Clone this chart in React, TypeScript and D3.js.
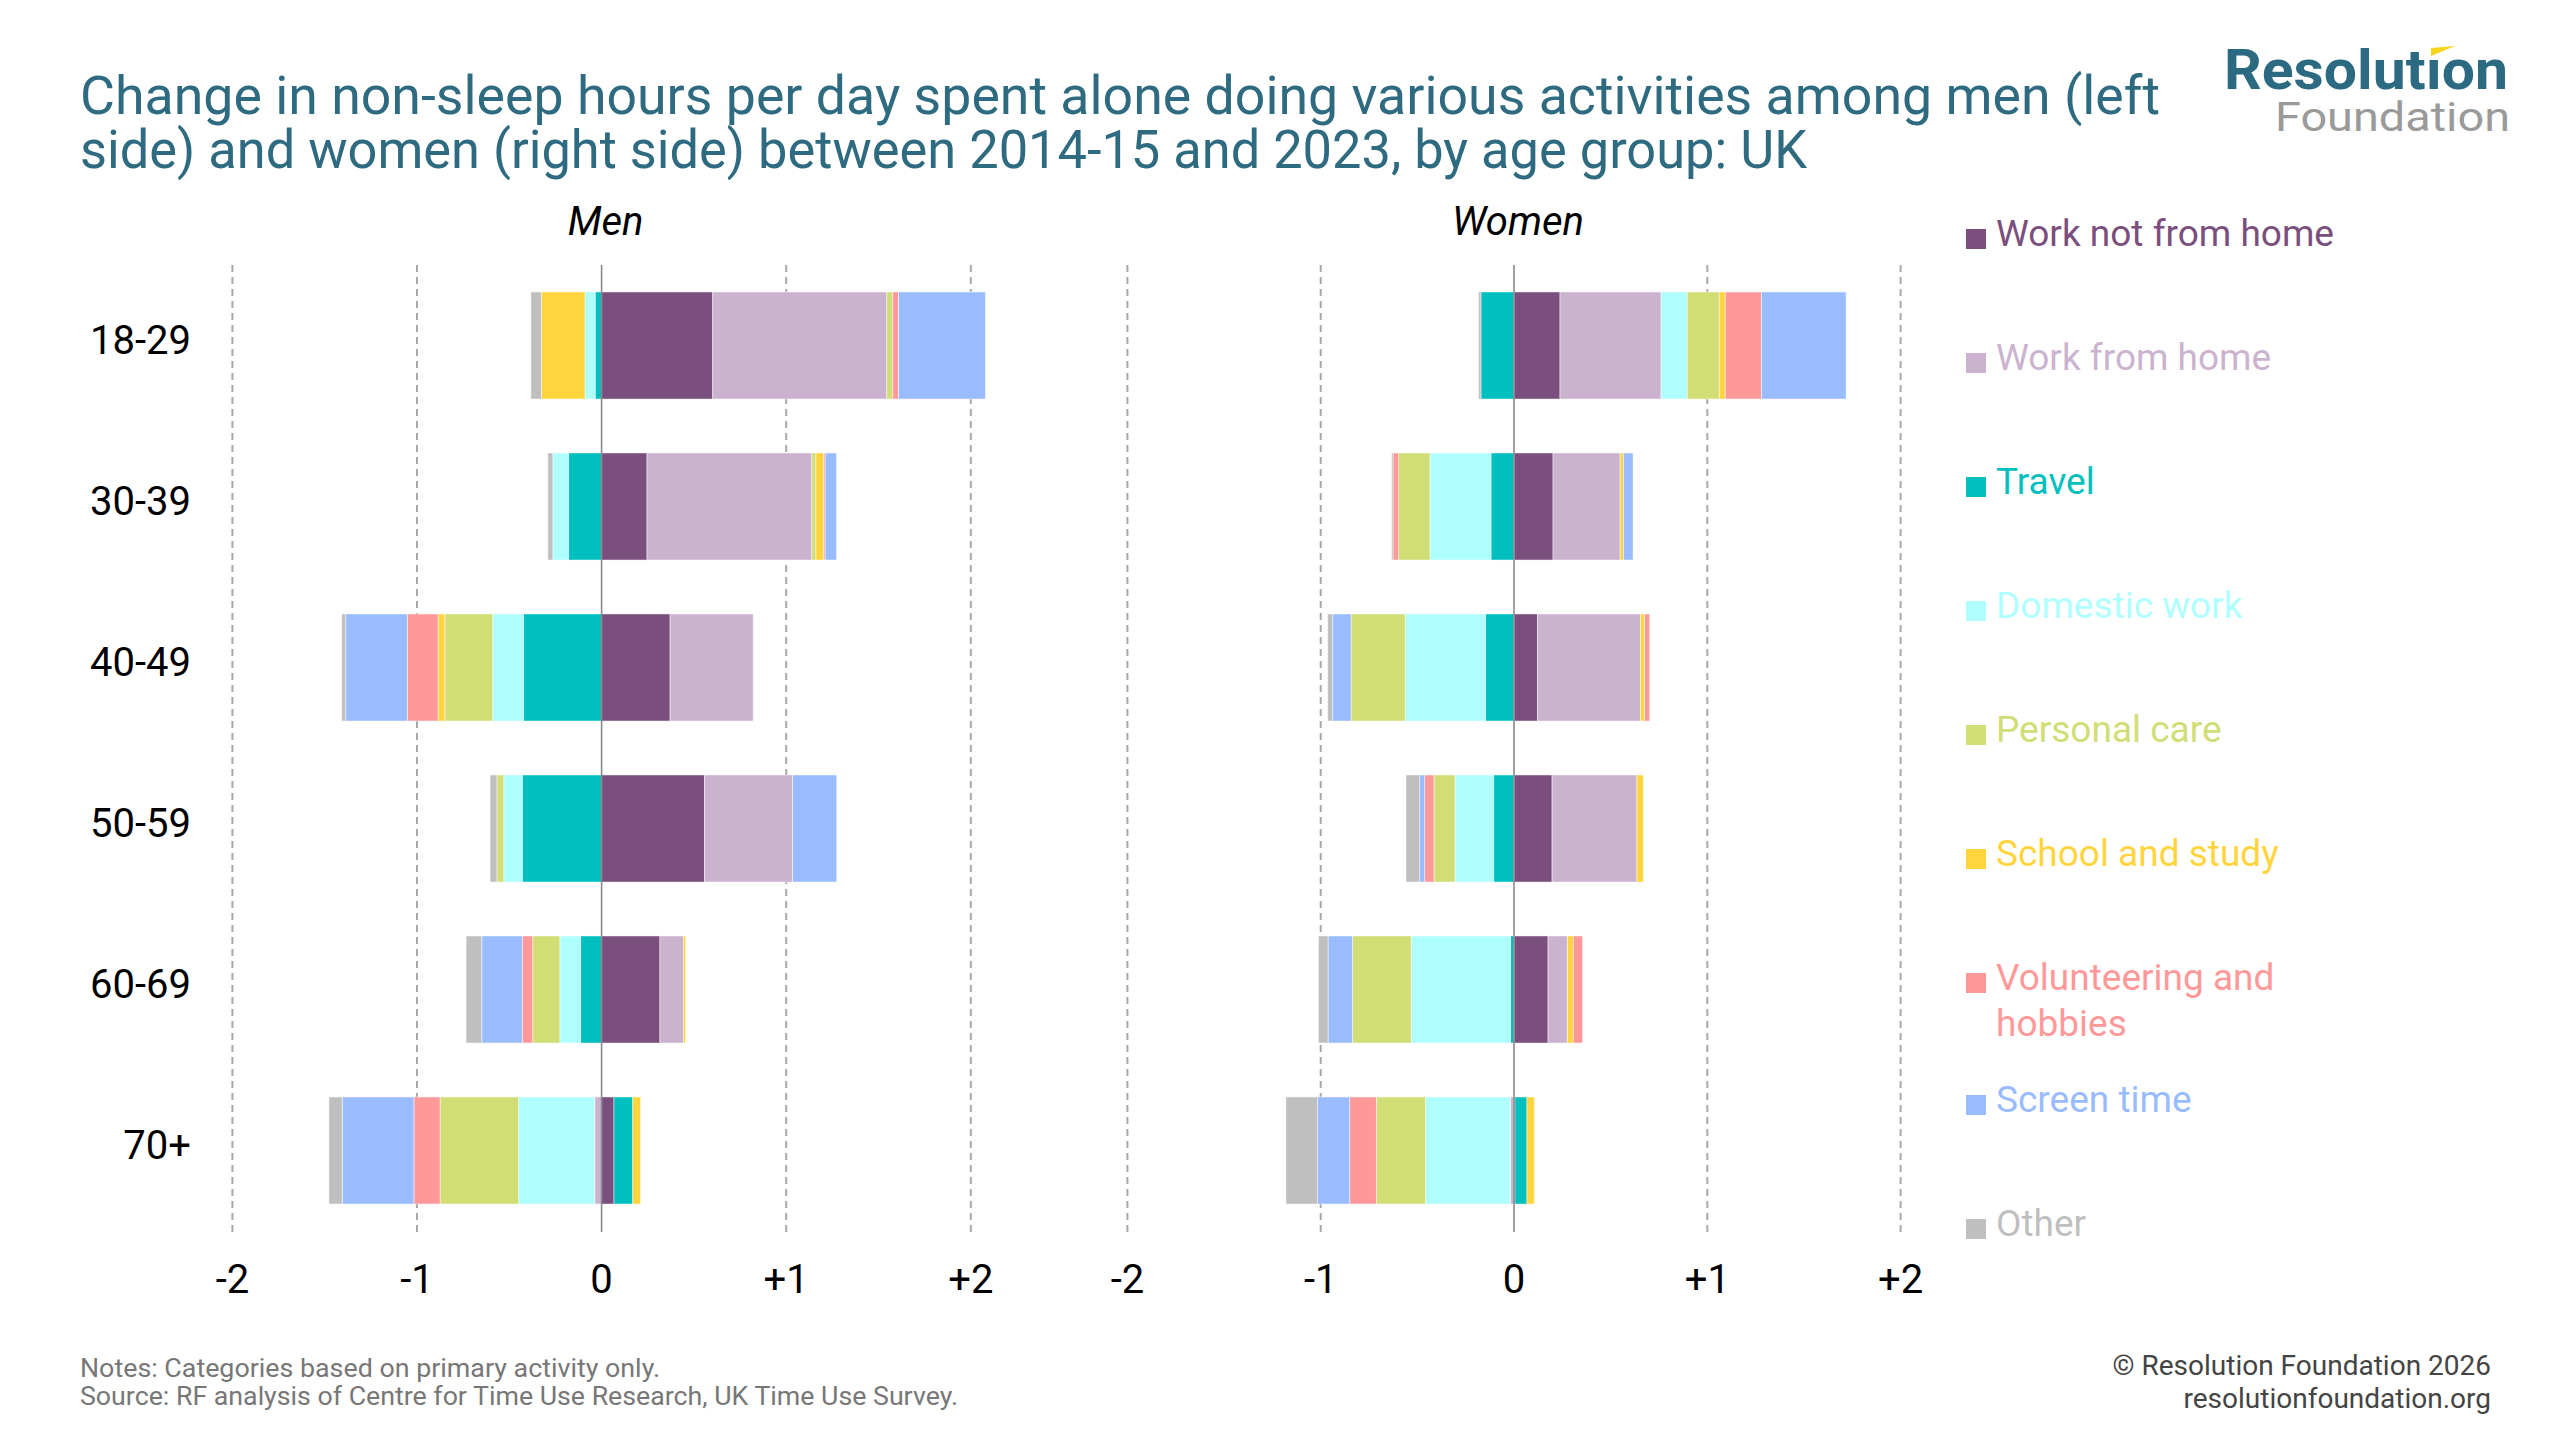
import { useEffect } from "react";
import * as d3 from "d3";

const ageGroups = ["18-29", "30-39", "40-49", "50-59", "60-69", "70+"];

const activities = [
  "Work not from home",
  "Work from home",
  "Travel",
  "Domestic work",
  "Personal care",
  "School and study",
  "Volunteering and hobbies",
  "Screen time",
  "Other",
];
const activityColors = [
  "#7a4f7d", "#cbb3cf", "#00bfbf", "#b0ffff", "#d1dd75",
  "#ffd43d", "#ff9999", "#99bbff", "#bfbfbf",
];

// change in hours per day, one value per age group
const menWorkNotFromHome = [0.602, 0.246, 0.371, 0.557, 0.316, 0.067];
const menWorkFromHome = [0.943, 0.893, 0.45, 0.478, 0.127, -0.037];
const menTravel = [-0.035, -0.179, -0.423, -0.43, -0.114, 0.102];
const menDomestic = [-0.055, -0.085, -0.167, -0.1, -0.112, -0.413];
const menPersonalCare = [0.032, 0.022, -0.259, -0.037, -0.147, -0.425];
const menSchool = [-0.236, 0.042, -0.037, 0, 0.012, 0.042];
const menVolunteering = [0.032, 0.008, -0.167, 0, -0.057, -0.142];
const menScreen = [0.47, 0.062, -0.333, 0.239, -0.219, -0.388];
const menOther = [-0.057, -0.027, -0.022, -0.037, -0.085, -0.072];

const womenWorkNotFromHome = [0.238, 0.202, 0.121, 0.197, 0.176, 0.005];
const womenWorkFromHome = [0.523, 0.347, 0.534, 0.439, 0.1, -0.019];
const womenTravel = [-0.171, -0.119, -0.147, -0.105, -0.019, 0.062];
const womenDomestic = [0.135, -0.316, -0.416, -0.2, -0.513, -0.439];
const womenPersonalCare = [0.166, -0.162, -0.28, -0.109, -0.304, -0.254];
const womenSchool = [0.031, 0.017, 0.021, 0.033, 0.031, 0.038];
const womenVolunteering = [0.188, -0.029, 0.026, -0.048, 0.048, -0.138];
const womenScreen = [0.437, 0.05, -0.095, -0.026, -0.126, -0.166];
const womenOther = [-0.012, -0.007, -0.026, -0.071, -0.05, -0.164];

const menSeries = [
  menWorkNotFromHome, menWorkFromHome, menTravel, menDomestic, menPersonalCare,
  menSchool, menVolunteering, menScreen, menOther,
];
const womenSeries = [
  womenWorkNotFromHome, womenWorkFromHome, womenTravel, womenDomestic, womenPersonalCare,
  womenSchool, womenVolunteering, womenScreen, womenOther,
];

const xTicks = [-2, -1, 0, 1, 2];
const tickLabel = (v: number) => (v > 0 ? `+${v}` : `${v}`);

const FONT = "Roboto, 'Noto Sans', sans-serif";
const GRID_TOP = 265;
const GRID_BOTTOM = 1232;

const yScale = d3.scaleBand<string>()
  .domain(ageGroups)
  .range([265, 1231])
  .paddingInner(0.335)
  .paddingOuter(0.1675);

type Row = { age: string } & Record<string, number | string>;

function Panel({ values, range, title }: { values: number[][]; range: [number, number]; title: string }) {
  const x = d3.scaleLinear().domain([-2, 2]).range(range);
  const rows: Row[] = ageGroups.map((age, i) => {
    const r: Row = { age };
    activities.forEach((a, j) => { r[a] = values[j][i]; });
    return r;
  });
  const stacked = d3.stack<Row>()
    .keys(activities)
    .value((d, k) => d[k] as number)
    .offset(d3.stackOffsetDiverging)(rows);

  return (
    <g>
      {xTicks.filter(t => t !== 0).map(t => (
        <line key={t} x1={x(t)} x2={x(t)} y1={GRID_TOP} y2={GRID_BOTTOM}
          stroke="#a8a8a8" strokeWidth={2} strokeDasharray="7,5" />
      ))}
      {stacked.map((layer, j) => (
        <g key={layer.key} fill={activityColors[j]}>
          {layer.map(seg => (
            <rect key={seg.data.age}
              x={x(Math.min(seg[0], seg[1]))}
              width={Math.abs(x(seg[1]) - x(seg[0]))}
              y={yScale(seg.data.age)}
              height={yScale.bandwidth()}
              stroke="#fff" strokeWidth={0.8} strokeOpacity={0.6} />
          ))}
        </g>
      ))}
      <line x1={x(0)} x2={x(0)} y1={GRID_TOP} y2={GRID_BOTTOM} stroke="#8a8a8a" strokeWidth={1.6} />
      {xTicks.map(t => (
        <text key={t} x={x(t)} y={1293} textAnchor="middle" fontSize={40} fill="#000">{tickLabel(t)}</text>
      ))}
      <text x={x(0) + 4} y={235} textAnchor="middle" fontSize={40} fontStyle="italic" fill="#000">{title}</text>
    </g>
  );
}

const legendBaselines = [246, 370, 494, 618, 742, 866, 990, 1112, 1236];

export default function App() {
  useEffect(() => { document.body.style.margin = "0"; }, []);
  return (
    <svg width={2560} height={1440} style={{ display: "block", background: "#fff" }} fontFamily={FONT}>
      <rect width={2560} height={1440} fill="#fff" />
      {/* title */}
      <g fill="#2e6b80" fontSize={54}>
        <text x={80} y={114} textLength={2080} lengthAdjust="spacingAndGlyphs">
          Change in non-sleep hours per day spent alone doing various activities among men (left
        </text>
        <text x={80} y={168} textLength={1727} lengthAdjust="spacingAndGlyphs">
          side) and women (right side) between 2014-15 and 2023, by age group: UK
        </text>
      </g>

      {/* logo */}
      <text x={2224} y={89} fontSize={55} fontWeight={700} fill="#2b6a80"
        textLength={284} lengthAdjust="spacingAndGlyphs">Resolutıon</text>
      <polygon points="2431,48 2455,46 2431,56" fill="#f7d417" />
      <text x={2275} y={131} fontSize={40} fill="#9a9a9a"
        textLength={235} lengthAdjust="spacingAndGlyphs">Foundation</text>

      {/* age group labels */}
      {ageGroups.map(a => (
        <text key={a} x={191} y={(yScale(a) ?? 0) + yScale.bandwidth() / 2} dy="0.22em"
          textAnchor="end" fontSize={40} fill="#000">{a}</text>
      ))}

      <Panel values={menSeries} range={[232.4, 970.8]} title="Men" />
      <Panel values={womenSeries} range={[1127.4, 1900.6]} title="Women" />

      {/* legend */}
      {activities.map((a, j) => {
        const yb = legendBaselines[j];
        const lines = a === "Volunteering and hobbies" ? ["Volunteering and", "hobbies"] : [a];
        return (
          <g key={a} fill={activityColors[j]}>
            <rect x={1966} y={yb - 17} width={20} height={20} />
            {lines.map((l, k) => (
              <text key={l} x={1996} y={yb + k * 46} fontSize={37}>{l}</text>
            ))}
          </g>
        );
      })}

      {/* footer */}
      <g fill="#777" fontSize={26}>
        <text x={80} y={1377} textLength={580} lengthAdjust="spacingAndGlyphs">Notes: Categories based on primary activity only.</text>
        <text x={80} y={1405} textLength={878} lengthAdjust="spacingAndGlyphs">Source: RF analysis of Centre for Time Use Research, UK Time Use Survey.</text>
      </g>
      <g fill="#444" fontSize={28} textAnchor="end">
        <text x={2491} y={1375}>© Resolution Foundation 2026</text>
        <text x={2491} y={1408}>resolutionfoundation.org</text>
      </g>
    </svg>
  );
}
